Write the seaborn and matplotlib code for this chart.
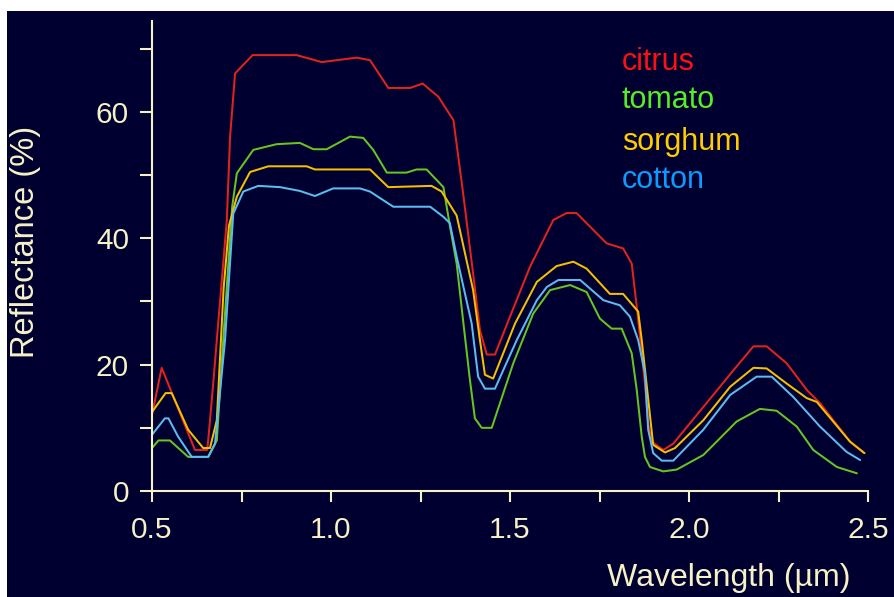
import matplotlib
matplotlib.use('Agg')
import matplotlib.pyplot as plt
from matplotlib.patches import Rectangle
from matplotlib.ticker import MultipleLocator
import seaborn as sns
import pandas as pd

# spectral reflectance curves
citrus_wl = [0.501, 0.527, 0.620, 0.654, 0.657, 0.671, 0.681, 0.709, 0.718, 0.732,
             0.781, 0.904, 0.974, 1.072, 1.109, 1.160, 1.221, 1.256, 1.300, 1.342,
             1.368, 1.397, 1.416, 1.435, 1.458, 1.500, 1.556, 1.621, 1.658, 1.686,
             1.770, 1.816, 1.840, 1.854, 1.877, 1.886, 1.896, 1.928, 1.956, 2.040,
             2.124, 2.180, 2.217, 2.273, 2.329, 2.366, 2.450, 2.490]
citrus_r = [12.3, 19.5, 6.5, 6.5, 8.0, 17.0, 23.9, 42.9, 56.0, 66.1,
            69.0, 69.0, 67.9, 68.6, 68.2, 63.8, 63.8, 64.5, 62.4, 58.7,
            47.6, 34.4, 25.5, 21.6, 21.6, 27.6, 35.5, 42.9, 44.0, 44.0,
            39.2, 38.4, 36.0, 29.2, 17.0, 10.7, 7.8, 6.5, 7.5, 13.3,
            19.1, 22.9, 22.9, 20.2, 16.0, 13.9, 7.8, 6.0]

tomato_wl = [0.500, 0.518, 0.550, 0.601, 0.657, 0.681, 0.699, 0.724, 0.737, 0.783,
             0.848, 0.913, 0.951, 0.988, 1.053, 1.090, 1.118, 1.156, 1.211, 1.239,
             1.267, 1.314, 1.332, 1.351, 1.370, 1.388, 1.402, 1.421, 1.449, 1.509,
             1.565, 1.612, 1.668, 1.714, 1.751, 1.784, 1.812, 1.840, 1.854, 1.868,
             1.877, 1.891, 1.928, 1.966, 2.040, 2.077, 2.133, 2.198, 2.245, 2.301,
             2.347, 2.413, 2.469]
tomato_r = [6.8, 8.0, 8.0, 5.4, 5.4, 8.0, 23.9, 45.0, 50.3, 54.0,
            54.9, 55.1, 54.1, 54.1, 56.1, 55.9, 54.0, 50.4, 50.4, 50.9,
            50.9, 48.1, 42.0, 36.0, 26.5, 17.6, 11.5, 10.0, 10.0, 20.2,
            28.1, 31.8, 32.6, 31.5, 27.3, 25.7, 25.7, 21.8, 16.0, 8.6,
            5.4, 3.8, 3.1, 3.4, 5.7, 7.8, 11.0, 13.0, 12.7, 10.2,
            6.5, 3.8, 2.8]

sorghum_wl = [0.500, 0.538, 0.555, 0.601, 0.643, 0.662, 0.681, 0.700, 0.715, 0.737,
              0.774, 0.825, 0.932, 0.955, 1.109, 1.160, 1.281, 1.309, 1.351, 1.397,
              1.416, 1.430, 1.453, 1.514, 1.575, 1.630, 1.677, 1.714, 1.779, 1.816,
              1.858, 1.868, 1.900, 1.933, 1.961, 2.040, 2.115, 2.180, 2.217, 2.273,
              2.329, 2.357, 2.450, 2.490]
sorghum_r = [12.5, 15.5, 15.5, 9.7, 6.8, 6.8, 11.2, 32.0, 42.0, 46.6,
             50.5, 51.4, 51.4, 50.9, 50.9, 48.1, 48.3, 47.4, 43.6, 31.8,
             23.9, 18.4, 17.8, 26.5, 33.1, 35.6, 36.3, 35.2, 31.2, 31.2,
             28.4, 23.9, 7.3, 6.1, 6.8, 11.2, 16.5, 19.5, 19.4, 17.0,
             14.7, 14.1, 7.8, 6.0]

cotton_wl = [0.500, 0.536, 0.546, 0.573, 0.611, 0.657, 0.676, 0.704, 0.727, 0.755,
             0.797, 0.858, 0.913, 0.955, 1.006, 1.081, 1.109, 1.174, 1.277, 1.314,
             1.332, 1.351, 1.393, 1.411, 1.430, 1.458, 1.519, 1.575, 1.603, 1.635,
             1.696, 1.761, 1.807, 1.835, 1.858, 1.877, 1.886, 1.900, 1.924, 1.956,
             2.040, 2.115, 2.189, 2.231, 2.291, 2.366, 2.440, 2.478]
cotton_r = [8.9, 11.5, 11.5, 8.6, 5.4, 5.4, 7.5, 23.9, 43.9, 47.4,
            48.3, 48.1, 47.5, 46.7, 47.9, 47.9, 47.4, 45.0, 45.0, 43.4,
            42.4, 37.1, 26.5, 18.1, 16.2, 16.2, 23.9, 30.2, 32.3, 33.4,
            33.4, 30.2, 29.4, 27.6, 23.9, 18.6, 9.7, 6.0, 4.8, 4.8,
            9.7, 15.2, 18.1, 18.1, 14.9, 10.2, 6.2, 4.9]

crops = ["citrus", "tomato", "sorghum", "cotton"]
line_colors = {"citrus": "#e4221c", "tomato": "#66c522",
               "sorghum": "#f5bf00", "cotton": "#5cbcf0"}
text_colors = {"citrus": "#ff1010", "tomato": "#55ee22",
               "sorghum": "#ffcc00", "cotton": "#0a9cff"}

series = {"citrus": (citrus_wl, citrus_r), "tomato": (tomato_wl, tomato_r),
          "sorghum": (sorghum_wl, sorghum_r), "cotton": (cotton_wl, cotton_r)}
df = pd.concat([pd.DataFrame({"wl": wl, "refl": r, "crop": name})
                for name, (wl, r) in series.items()], ignore_index=True)

navy = "#000030"
cream = "#f6f1c6"

sns.set_theme(style="ticks")
plt.rcParams['font.family'] = ['Liberation Sans', 'DejaVu Sans']

fig = plt.figure(figsize=(8.94, 5.97), dpi=100, facecolor="white")
fig.patches.append(Rectangle((7 / 894, 0), 1, 1 - 11 / 597, transform=fig.transFigure,
                             facecolor=navy, edgecolor="none", zorder=-10))

ax = fig.add_axes([152 / 894, 1 - 491 / 597, 716 / 894, 470 / 597])
ax.set_facecolor(navy)

sns.lineplot(data=df, x="wl", y="refl", hue="crop", hue_order=crops,
             palette=line_colors, estimator=None, sort=False, lw=1.45,
             legend=False, ax=ax)

ax.set_xlim(0.5, 2.5)
ax.set_ylim(0, 74.4)
ax.xaxis.set_major_locator(MultipleLocator(0.5))
ax.xaxis.set_minor_locator(MultipleLocator(0.25))
ax.yaxis.set_major_locator(MultipleLocator(20))
ax.yaxis.set_minor_locator(MultipleLocator(10))
ax.xaxis.set_major_formatter(plt.FuncFormatter(lambda v, p: f"{v:.1f}"))

for side in ["top", "right"]:
    ax.spines[side].set_visible(False)
for side in ["left", "bottom"]:
    ax.spines[side].set_color(cream)
    ax.spines[side].set_linewidth(1.5)

ax.tick_params(axis="y", which="both", length=8.6, width=1.5, color=cream,
               labelcolor=cream, labelsize=21.5, pad=8)
ax.tick_params(axis="x", which="both", length=8, width=1.5, color=cream,
               labelcolor=cream, labelsize=21.5, pad=10)

ax.set_ylabel("Reflectance (%)", color=cream, fontsize=23.5)
ax.yaxis.label.set_verticalalignment("center")
ax.yaxis.set_label_coords(-0.177, 0.53)
ax.set_xlabel("Wavelength (µm)", color=cream, fontsize=23)
ax.xaxis.label.set_horizontalalignment("right")
ax.xaxis.label.set_verticalalignment("center")
ax.xaxis.set_label_coords(0.975, -0.185)

# coloured labels in place of a legend
baselines = [70, 108.3, 150, 188.3]
for name, yb in zip(crops, baselines):
    fig.text(621.7 / 894, 1 - yb / 597, name, color=text_colors[name],
             fontsize=22, va="baseline", ha="left")

fig.savefig("out.png", dpi=100, facecolor=fig.get_facecolor())
